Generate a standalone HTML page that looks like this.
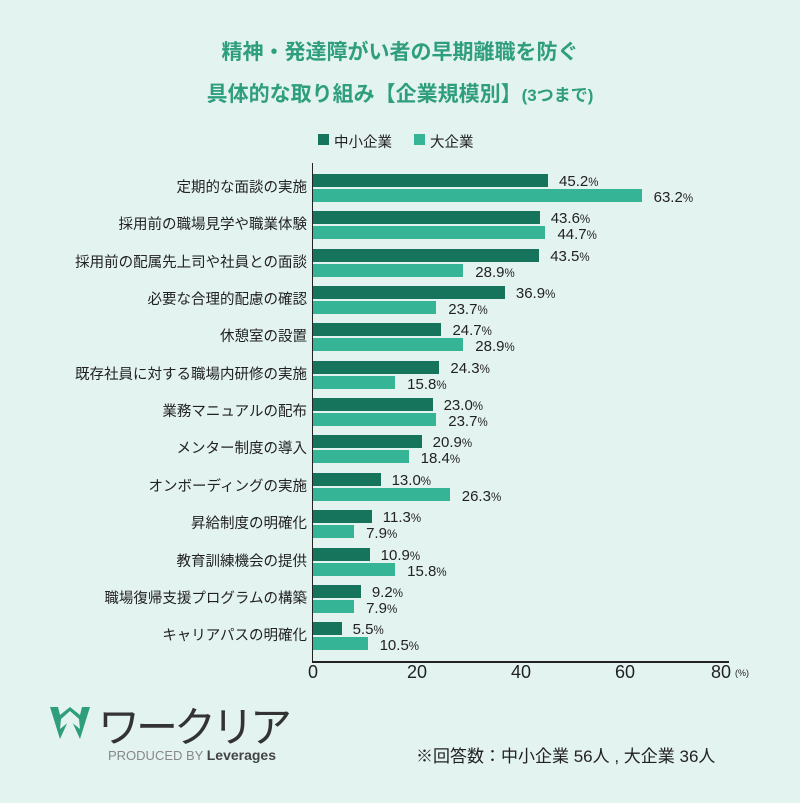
<!DOCTYPE html><html><head><meta charset="utf-8"><style>
body{margin:0;width:800px;height:803px;background:#e3f3f0;position:relative;overflow:hidden;font-family:"Liberation Sans","Noto Sans CJK JP",sans-serif;color:#222}
.a{position:absolute;white-space:nowrap}
.t{left:0;width:800px;text-align:center;color:#2f9e7c;font-weight:bold;font-size:21px}
.d{background:#16745c;height:13px;left:313px}
.l{background:#36b596;height:13px;left:313px}
.v{font-size:15px;line-height:15px}
.v small{font-size:11.5px}
.c{right:493px;font-size:14.5px;line-height:16px;text-align:right}
.k{font-size:18px;transform:translateX(-50%)}
</style></head><body>
<div class="a t" style="top:36px">精神・発達障がい者の早期離職を防ぐ</div>
<div class="a t" style="top:78px">具体的な取り組み【企業規模別】<span style="font-size:17px">(3つまで)</span></div>
<div class="a" style="left:318px;top:134px;width:11px;height:11px;background:#16745c"></div>
<div class="a" style="left:334px;top:131px;font-size:14.5px">中小企業</div>
<div class="a" style="left:414px;top:134px;width:11px;height:11px;background:#36b596"></div>
<div class="a" style="left:430px;top:131px;font-size:14.5px">大企業</div>
<div id="rows"></div>
<div class="a" style="left:312px;top:163px;width:1px;height:499px;background:#222"></div>
<div class="a" style="left:312px;top:661px;width:417px;height:1.5px;background:#222"></div>
<div class="a k" style="left:313px;top:662px">0</div>
<div class="a k" style="left:417px;top:662px">20</div>
<div class="a k" style="left:521px;top:662px">40</div>
<div class="a k" style="left:625px;top:662px">60</div>
<div class="a k" style="left:721px;top:662px">80</div>
<div class="a" style="left:735px;top:668px;font-size:9px">(%)</div>
<svg class="a" style="left:48px;top:705px" width="44" height="36" viewBox="0 0 44 36"><path d="M2 2 L12 34 L22 12 L32 34 L42 2 L34 2 L32 10 L22 2 L12 10 L10 2 Z" fill="#2f9e7c"/><path d="M13 14 L22 6 L31 14 L32 24 L22 16 L12 24Z" fill="#e3f3f0"/></svg>
<div class="a" style="left:98px;top:694px;font-size:42px;color:#333;letter-spacing:-4px">ワークリア</div>
<div class="a" style="left:108px;top:747px;font-size:13px;color:#888">PRODUCED BY <b style="color:#444;font-size:14px">Leverages</b></div>
<div class="a" style="left:416px;top:742px;font-size:17px">※回答数：中小企業 56人 , 大企業 36人</div>
<script>
const D=[["定期的な面談の実施",45.2,63.2],["採用前の職場見学や職業体験",43.6,44.7],["採用前の配属先上司や社員との面談",43.5,28.9],["必要な合理的配慮の確認",36.9,23.7],["休憩室の設置",24.7,28.9],["既存社員に対する職場内研修の実施",24.3,15.8],["業務マニュアルの配布",23.0,23.7],["メンター制度の導入",20.9,18.4],["オンボーディングの実施",13.0,26.3],["昇給制度の明確化",11.3,7.9],["教育訓練機会の提供",10.9,15.8],["職場復帰支援プログラムの構築",9.2,7.9],["キャリアパスの明確化",5.5,10.5]];
let h="";const s=5.2;
D.forEach((r,i)=>{const y=174+37.35*i;
h+=`<div class="a c" style="top:${y+6}px">${r[0]}</div>`;
h+=`<div class="a d" style="top:${y}px;width:${r[1]*s}px"></div>`;
h+=`<div class="a l" style="top:${y+15}px;width:${r[2]*s}px"></div>`;
h+=`<div class="a v" style="left:${313+r[1]*s+11}px;top:${y}px">${r[1].toFixed(1)}<small>%</small></div>`;
h+=`<div class="a v" style="left:${313+r[2]*s+12}px;top:${y+16}px">${r[2].toFixed(1)}<small>%</small></div>`;});
document.getElementById("rows").innerHTML=h;
</script>
</body></html>
